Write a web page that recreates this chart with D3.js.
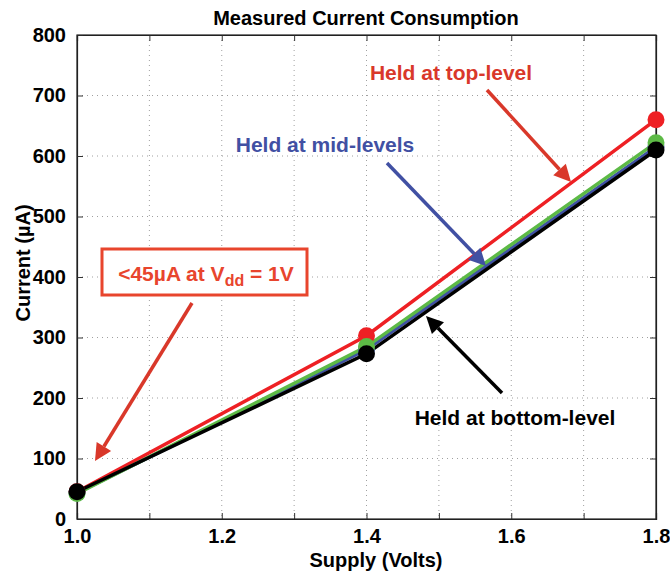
<!DOCTYPE html>
<html>
<head>
<meta charset="utf-8">
<script src="https://cdn.jsdelivr.net/npm/d3@7"></script>
<style>
  body { margin: 0; background: #fff; }
  text { font-family: "Liberation Sans", Arial, sans-serif; font-weight: bold; }
</style>
</head>
<body>
<div id="chart"></div>
<script>
// data
const supply = [1.0, 1.4, 1.8];
const topLevel = [45, 303, 660];
const midLevels = [43, 280, 615];
const greenLevels = [42, 285, 622];
const bottomLevel = [45, 273, 610];
const xTicks = [1.0, 1.2, 1.4, 1.6, 1.8];
const yTicks = [0, 100, 200, 300, 400, 500, 600, 700, 800];

let margin = { top: 35, right: 14, bottom: 55, left: 77 };
let width = 670 - margin.left - margin.right;
let height = 574 - margin.top - margin.bottom;

let svg = d3.select('#chart')
  .append('svg')
  .attr('width', 670)
  .attr('height', 574);

let g = svg.append('g')
  .attr('transform', 'translate(' + margin.left + ',' + margin.top + ')');

let x = d3.scaleLinear().domain([1.0, 1.8]).range([0, width]);
let y = d3.scaleLinear().domain([0, 800]).range([height, 0]);

const minorX = d3.range(1.0, 1.8001, 0.1);

// grid
g.selectAll('.vgrid').data(minorX.slice(1, -1))
  .enter().append('line')
    .attr('x1', d => x(d)).attr('x2', d => x(d))
    .attr('y1', 0).attr('y2', height)
    .attr('stroke', '#a0a0a0').attr('stroke-width', 1)
    .attr('stroke-dasharray', '1,4');
g.selectAll('.hgrid').data(yTicks.slice(1, -1))
  .enter().append('line')
    .attr('x1', 0).attr('x2', width)
    .attr('y1', d => y(d)).attr('y2', d => y(d))
    .attr('stroke', '#a0a0a0').attr('stroke-width', 1)
    .attr('stroke-dasharray', '1,4');

// axes with inward ticks
let xAxis = g.append('g').attr('transform', 'translate(0,' + height + ')')
  .call(d3.axisBottom(x).tickValues(minorX).tickSize(-6).tickPadding(10)
    .tickFormat(d => xTicks.some(t => Math.abs(t - d) < 1e-6) ? d3.format('.1f')(d) : ''));
let xTop = g.append('g')
  .call(d3.axisTop(x).tickValues(minorX).tickSize(-6).tickFormat(''));
let yAxis = g.append('g')
  .call(d3.axisLeft(y).tickValues(yTicks).tickSize(-6).tickPadding(11));
let yRight = g.append('g').attr('transform', 'translate(' + width + ',0)')
  .call(d3.axisRight(y).tickValues(yTicks).tickSize(-6).tickFormat(''));

[xAxis, xTop, yAxis, yRight].forEach(a => {
  a.select('.domain').attr('stroke', '#222').attr('stroke-width', 1.2);
  a.selectAll('.tick line').attr('stroke', '#333');
  a.selectAll('.tick text').attr('fill', '#000').style('font-size', '20px')
    .style('font-family', '"Liberation Sans", Arial, sans-serif').style('font-weight', 'bold');
});
g.append('rect').attr('width', width).attr('height', height)
  .attr('fill', 'none').attr('stroke', '#222').attr('stroke-width', 1.2);

// series
const series = [
  { name: 'top', values: topLevel, color: '#ee2024' },
  { name: 'mid', values: midLevels, color: '#3f51a3' },
  { name: 'green', values: greenLevels, color: '#5dba46' },
  { name: 'bottom', values: bottomLevel, color: '#000000' }
];

let line = d3.line().x((d, i) => x(supply[i])).y(d => y(d));

series.forEach(s => {
  g.append('path')
    .datum(s.values)
    .attr('d', line)
    .attr('fill', 'none')
    .attr('stroke', s.color)
    .attr('stroke-width', 3.5);
});
series.forEach(s => {
  g.selectAll('.pt-' + s.name).data(s.values)
    .enter().append('circle')
      .attr('cx', (d, i) => x(supply[i]))
      .attr('cy', d => y(d))
      .attr('r', 8.5)
      .attr('fill', s.color);
});

// annotations
function arrow(x0, y0, x1, y1, color) {
  const px0 = x(x0), py0 = y(y0), px1 = x(x1), py1 = y(y1);
  const ang = Math.atan2(py1 - py0, px1 - px0);
  const len = 17, half = 8.5;
  const bx = px1 - len * Math.cos(ang), by = py1 - len * Math.sin(ang);
  g.append('line')
    .attr('x1', px0).attr('y1', py0).attr('x2', bx).attr('y2', by)
    .attr('stroke', color).attr('stroke-width', 3.5);
  const pts = [
    [px1, py1],
    [bx + half * Math.sin(ang), by - half * Math.cos(ang)],
    [bx - half * Math.sin(ang), by + half * Math.cos(ang)]
  ];
  g.append('polygon').attr('points', pts.map(p => p.join(',')).join(' ')).attr('fill', color);
}

const pxToV = px => 1 + (px - margin.left) / width * 0.8;
const pyToA = py => (height + margin.top - py) / height * 800;

arrow(pxToV(487), pyToA(90), pxToV(571), pyToA(182), '#d9382a');
arrow(pxToV(387), pyToA(163), pxToV(486), pyToA(266), '#4150a3');
arrow(pxToV(502), pyToA(393), pxToV(426), pyToA(316), '#000000');
arrow(pxToV(192), pyToA(303), pxToV(95), pyToA(461), '#d9382a');

svg.append('text').attr('x', 451).attr('y', 80).attr('text-anchor', 'middle')
  .attr('fill', '#d9382a').style('font-size', '21px').text('Held at top-level');
svg.append('text').attr('x', 325).attr('y', 152).attr('text-anchor', 'middle')
  .attr('fill', '#4150a3').style('font-size', '21px').text('Held at mid-levels');
svg.append('text').attr('x', 515).attr('y', 425).attr('text-anchor', 'middle')
  .attr('fill', '#000').style('font-size', '21px').text('Held at bottom-level');

svg.append('rect').attr('x', 102).attr('y', 249).attr('width', 205).attr('height', 46)
  .attr('fill', '#fff').attr('stroke', '#e8452d').attr('stroke-width', 3);
let boxText = svg.append('text').attr('x', 206).attr('y', 281).attr('text-anchor', 'middle')
  .attr('fill', '#e8452d').style('font-size', '21px');
boxText.append('tspan').text('<45µA at V');
boxText.append('tspan').attr('dy', 5).style('font-size', '16px').text('dd');
boxText.append('tspan').attr('dy', -5).text(' = 1V');

// title and axis labels
svg.append('text').attr('x', 366).attr('y', 25).attr('text-anchor', 'middle')
  .attr('fill', '#000').style('font-size', '20px').text('Measured Current Consumption');
svg.append('text').attr('x', 376).attr('y', 567).attr('text-anchor', 'middle')
  .attr('fill', '#000').style('font-size', '20px').text('Supply (Volts)');
svg.append('text').attr('transform', 'translate(30,263) rotate(-90)')
  .attr('text-anchor', 'middle')
  .attr('fill', '#000').style('font-size', '20px').text('Current (µA)');
</script>
</body>
</html>
